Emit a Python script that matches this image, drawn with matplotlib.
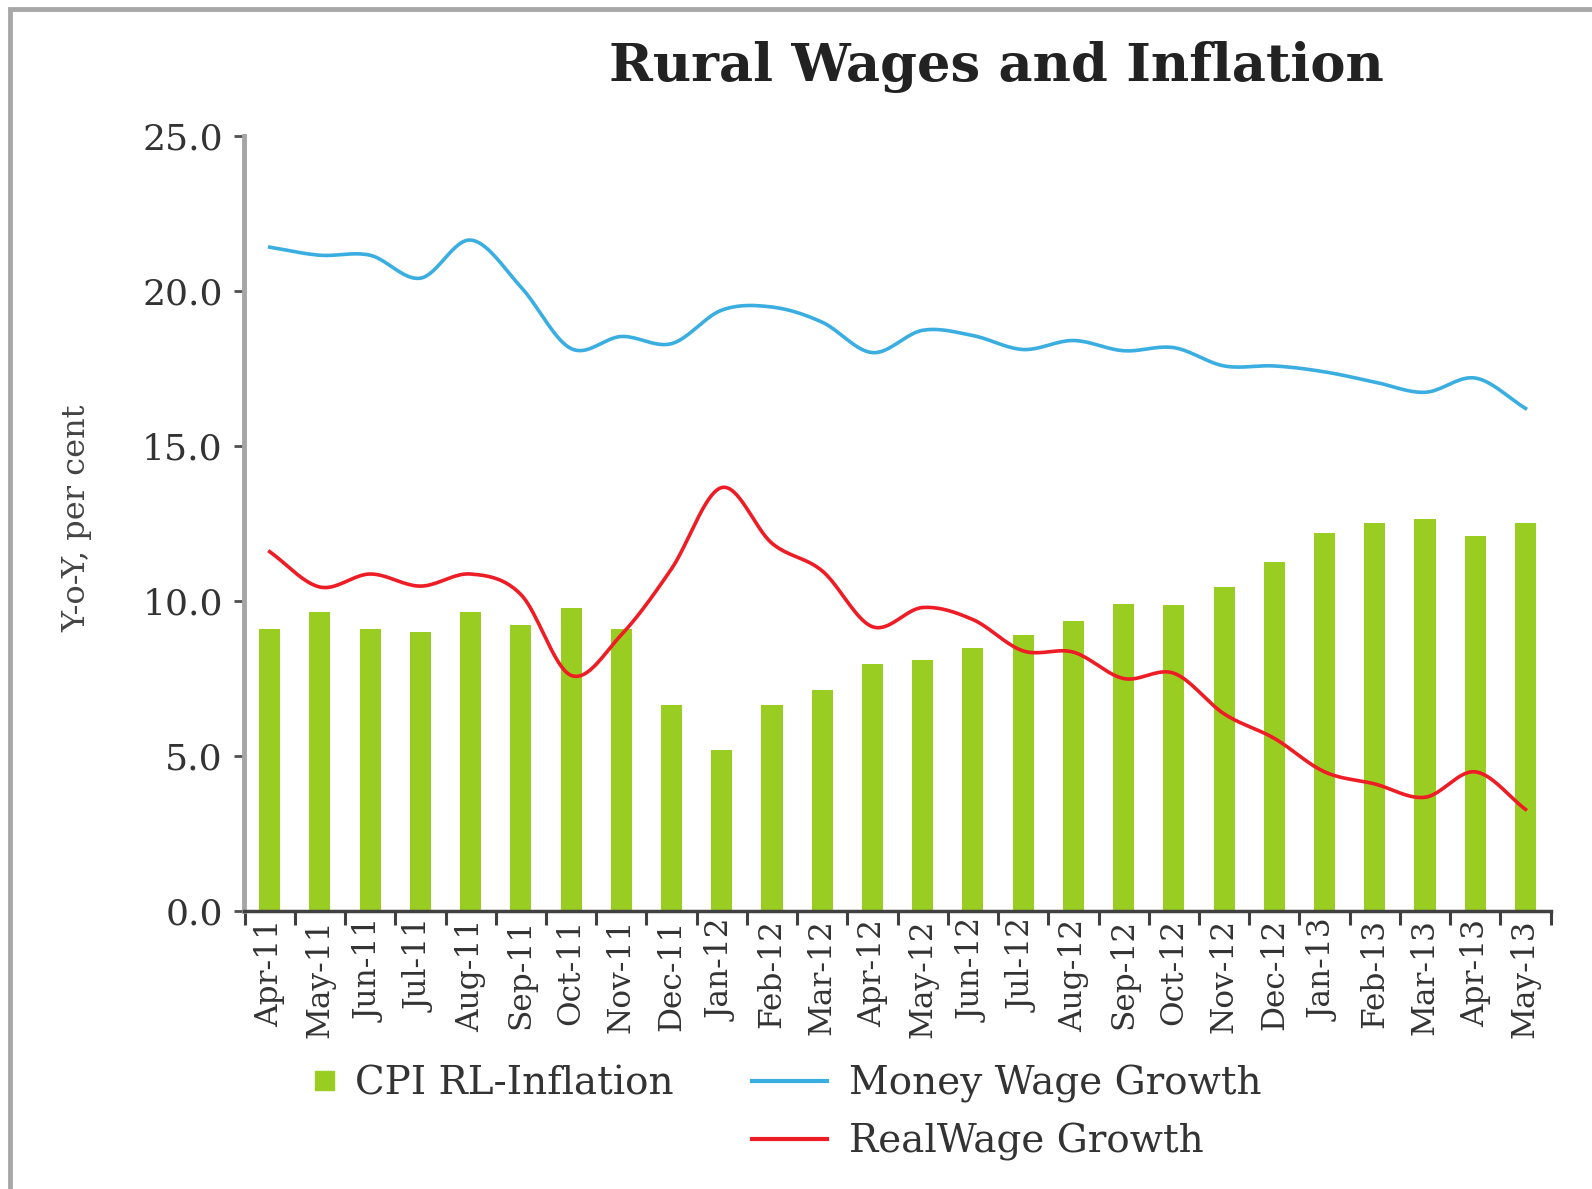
import matplotlib
matplotlib.use("Agg")
import matplotlib.pyplot as plt
from matplotlib.patches import Rectangle
from matplotlib.lines import Line2D
from matplotlib.legend_handler import HandlerPatch
import numpy as np

months = ["Apr-11", "May-11", "Jun-11", "Jul-11", "Aug-11", "Sep-11", "Oct-11",
          "Nov-11", "Dec-11", "Jan-12", "Feb-12", "Mar-12", "Apr-12", "May-12",
          "Jun-12", "Jul-12", "Aug-12", "Sep-12", "Oct-12", "Nov-12", "Dec-12",
          "Jan-13", "Feb-13", "Mar-13", "Apr-13", "May-13"]

cpi_rl_inflation = [9.1, 9.65, 9.1, 9.0, 9.65, 9.2, 9.75, 9.1, 6.64, 5.17, 6.64,
                    7.13, 7.95, 8.08, 8.48, 8.9, 9.33, 9.9, 9.85, 10.44, 11.26,
                    12.17, 12.5, 12.63, 12.07, 12.5]

money_wage_growth = [21.4, 21.14, 21.14, 20.4, 21.63, 20.12, 18.13, 18.52, 18.29,
                     19.37, 19.47, 18.98, 18.0, 18.72, 18.55, 18.1, 18.39, 18.06,
                     18.16, 17.57, 17.57, 17.38, 17.05, 16.72, 17.18, 16.2]

real_wage_growth = [11.58, 10.44, 10.86, 10.47, 10.86, 10.2, 7.59, 8.9, 11.03,
                    13.65, 11.85, 10.96, 9.16, 9.78, 9.39, 8.38, 8.34, 7.49, 7.66,
                    6.35, 5.56, 4.48, 4.09, 3.66, 4.48, 3.27]

yticks = [0, 5, 10, 15, 20, 25]


def smooth_curve(xs, ys, steps=20):
    # catmull-rom, only for drawing the line smoothly (like excel's smoothed lines)
    xs = np.asarray(xs, dtype=float)
    ys = np.asarray(ys, dtype=float)
    px = np.concatenate([[2 * xs[0] - xs[1]], xs, [2 * xs[-1] - xs[-2]]])
    py = np.concatenate([[2 * ys[0] - ys[1]], ys, [2 * ys[-1] - ys[-2]]])
    out_x, out_y = [], []
    t = np.linspace(0, 1, steps, endpoint=False)
    for i in range(1, len(px) - 2):
        for p, out in ((px, out_x), (py, out_y)):
            p0, p1, p2, p3 = p[i - 1], p[i], p[i + 1], p[i + 2]
            out.extend(0.5 * ((2 * p1) + (-p0 + p2) * t
                              + (2 * p0 - 5 * p1 + 4 * p2 - p3) * t ** 2
                              + (-p0 + 3 * p1 - 3 * p2 + p3) * t ** 3))
    out_x.append(xs[-1])
    out_y.append(ys[-1])
    return out_x, out_y


plt.rcParams["font.family"] = "DejaVu Serif"

green = "#9acd22"
blue = "#3aaee0"
red = "#ee1c25"

fig = plt.figure(figsize=(15.92, 11.89), dpi=100)
ax = fig.add_axes([0.153, 0.234, 0.821, 0.652])

x = np.arange(len(months))
ax.bar(x, cpi_rl_inflation, width=0.42, color=green, zorder=2)

sx, sy = smooth_curve(x, money_wage_growth)
ax.plot(sx, sy, color=blue, lw=2.6, zorder=3)
sx, sy = smooth_curve(x, real_wage_growth)
ax.plot(sx, sy, color=red, lw=2.6, zorder=3)

ax.set_xlim(-0.52, len(months) - 0.58)
ax.set_ylim(0, 25)
ax.set_yticks(yticks)
ax.set_yticklabels([f"{v:.1f}" for v in yticks], fontsize=26, color="#333333")
ax.set_xticks(x)
ax.set_xticklabels(months, rotation=90, fontsize=22.5, color="#333333")
ax.set_xticks(np.arange(len(months) + 1) - 0.5, minor=True)
ax.tick_params(axis="x", which="major", length=0, pad=6)
ax.tick_params(axis="x", which="minor", length=10, width=2.2, color="#404040")
ax.tick_params(axis="y", length=7, width=2, color="#505050", pad=8)

for s in ["top", "right"]:
    ax.spines[s].set_visible(False)
ax.spines["left"].set_color("#a5a5a5")
ax.spines["left"].set_linewidth(3.5)
ax.spines["bottom"].set_color("#404040")
ax.spines["bottom"].set_linewidth(2.5)

fig.text(0.626, 0.944, "Rural Wages and Inflation", ha="center", va="center",
         fontsize=38, fontweight="bold", color="#222222")
fig.text(0.048, 0.564, "Y-o-Y, per cent", ha="center", va="center",
         rotation=90, fontsize=23, color="#444444")


def square_patch(legend, orig_handle, xdescent, ydescent, width, height, fontsize):
    s = height * 0.7
    return Rectangle((-xdescent + width - s, -ydescent + (height - s) / 2), s, s)


h_cpi = Rectangle((0, 0), 1, 1, color=green)
h_blank = Line2D([], [], color="none")
h_money = Line2D([], [], color=blue, lw=3)
h_real = Line2D([], [], color=red, lw=3)
leg = fig.legend([h_cpi, h_blank, h_money, h_real],
                 ["CPI RL-Inflation", "", "Money Wage Growth", "RealWage Growth"],
                 ncol=2, loc="upper left", bbox_to_anchor=(0.14, 0.134),
                 frameon=False, fontsize=28, handlelength=1.95, handletextpad=0.55,
                 columnspacing=2.0, labelspacing=0.52, labelcolor="#333333",
                 handler_map={Rectangle: HandlerPatch(patch_func=square_patch)})

# grey frame around the picture (only left and top edges show)
fig.add_artist(Rectangle((10 / 1592, -0.2), 2.0, 1.2 - 9 / 1189,
                         transform=fig.transFigure, fill=False,
                         edgecolor="#a8a8a8", linewidth=3.5, clip_on=False))

fig.savefig("out.png", dpi=100)
